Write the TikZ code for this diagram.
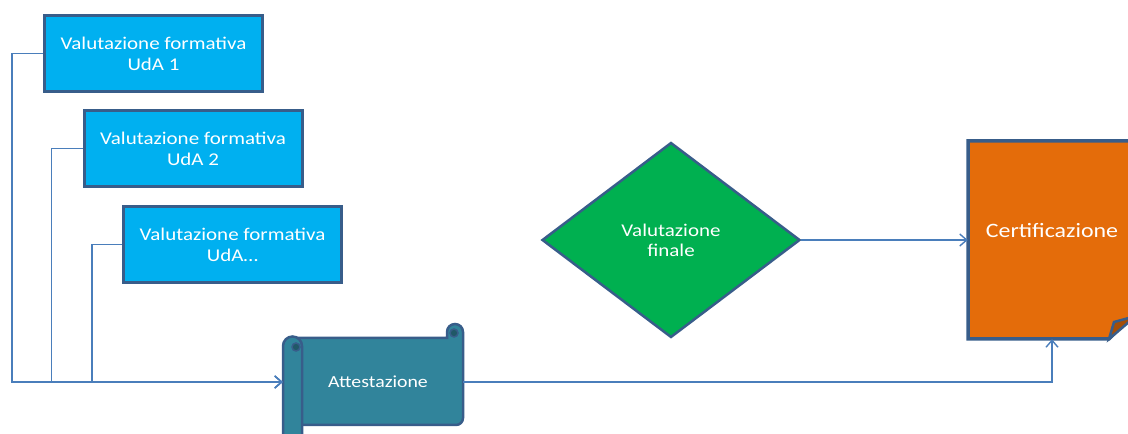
\documentclass[tikz,border=0pt]{standalone}
\usepackage{fontspec}
\setmainfont{Carlito}
\usetikzlibrary{shapes.geometric,arrows.meta}
\definecolor{udafill}{HTML}{00B0F0}
\definecolor{shapedraw}{HTML}{385D8A}
\definecolor{scrollfill}{HTML}{31849B}
\definecolor{scrolldark}{HTML}{205867}
\definecolor{finalfill}{HTML}{00B050}
\definecolor{certfill}{HTML}{E46C0A}
\definecolor{certdark}{HTML}{A44E07}
\definecolor{connline}{HTML}{4A7EBB}
\newcommand{\wide}[1]{\scalebox{1.17}[1]{#1}}
\tikzset{
  uda/.style={draw=shapedraw,line width=3bp,fill=udafill,text=white,align=center,
    minimum width=218bp,minimum height=76bp,font=\fontsize{18}{21}\selectfont},
  conn/.style={connline,line width=1.4bp,->},
}
\begin{document}
\begin{tikzpicture}[>={Straight Barb[length=7bp,width=12bp]},line join=miter,]
\path[use as bounding box] (0bp,0bp) rectangle (1128bp,434bp);
\clip (0bp,0bp) rectangle (1128bp,434bp);
%%
\node (uda1) at (153.5bp,380.5bp) [uda] {\wide{Valutazione formativa}\\\wide{UdA 1}};
\node (uda2) at (193.0bp,285.5bp) [uda] {\wide{Valutazione formativa}\\\wide{UdA 2}};
\node (uda3) at (232.5bp,189.5bp) [uda] {\wide{Valutazione formativa}\\\wide{UdA…}};
%
% scroll
\filldraw [fill=scrollfill,draw=shapedraw,line width=2.5bp]
  (292bp,96bp) -- (447bp,96bp) -- (447bp,102bp) arc (180:0:8bp)
  -- (463bp,16bp) arc (0:-90:7bp) -- (292bp,9bp) -- cycle;
\filldraw [fill=scrolldark,draw=shapedraw,line width=1.5bp] (454bp,101bp) circle (4bp);
\filldraw [fill=scrollfill,draw=shapedraw,line width=2.5bp]
  (283bp,-6bp) -- (283bp,88bp) arc (180:0:9.5bp) -- (302bp,-6bp) -- cycle;
\filldraw [fill=scrolldark,draw=shapedraw,line width=1.5bp] (296bp,87bp) circle (4bp);
\node (att) at (373bp,52bp) [draw=none,text=white,minimum width=180bp,minimum height=87bp,
  font=\fontsize{17}{20}\selectfont] {\hspace*{10bp}\wide{Attestazione}};
%
\node (final) at (671bp,194bp) [diamond,draw=shapedraw,line width=2.5bp,fill=finalfill,
  inner sep=0bp,minimum width=258bp,minimum height=195bp,text=white,align=center,
  font=\fontsize{18}{20}\selectfont] {\wide{Valutazione}\\\wide{finale}};
%
% document
\filldraw [fill=certfill,draw=shapedraw,line width=3.5bp]
  (968bp,95bp) -- (968bp,293bp) -- (1136bp,293bp) -- (1136bp,122bp) -- (1109bp,95bp) -- cycle;
\filldraw [fill=certdark,draw=shapedraw,line width=2.5bp]
  (1109bp,95bp) -- (1114bp,112bp) -- (1136bp,118bp) -- cycle;
\node (cert) at (1052bp,194bp) [draw=none,text=white,minimum width=168bp,minimum height=198bp,
  font=\fontsize{20.5}{24}\selectfont] {\raisebox{20bp}{\wide{Certificazione}}};
%
\draw [conn] (uda1.west) -- ++(-31bp,0bp) |- (att.west);
\draw [conn] (uda2.west) -- ++(-31bp,0bp) |- (att.west);
\draw [conn] (uda3.west) -- ++(-30bp,0bp) |- (att.west);
\draw [conn] (final.east) -- (cert.west);
\draw [conn] (att.east) -| (cert.south);
%
\end{tikzpicture}
\end{document}
